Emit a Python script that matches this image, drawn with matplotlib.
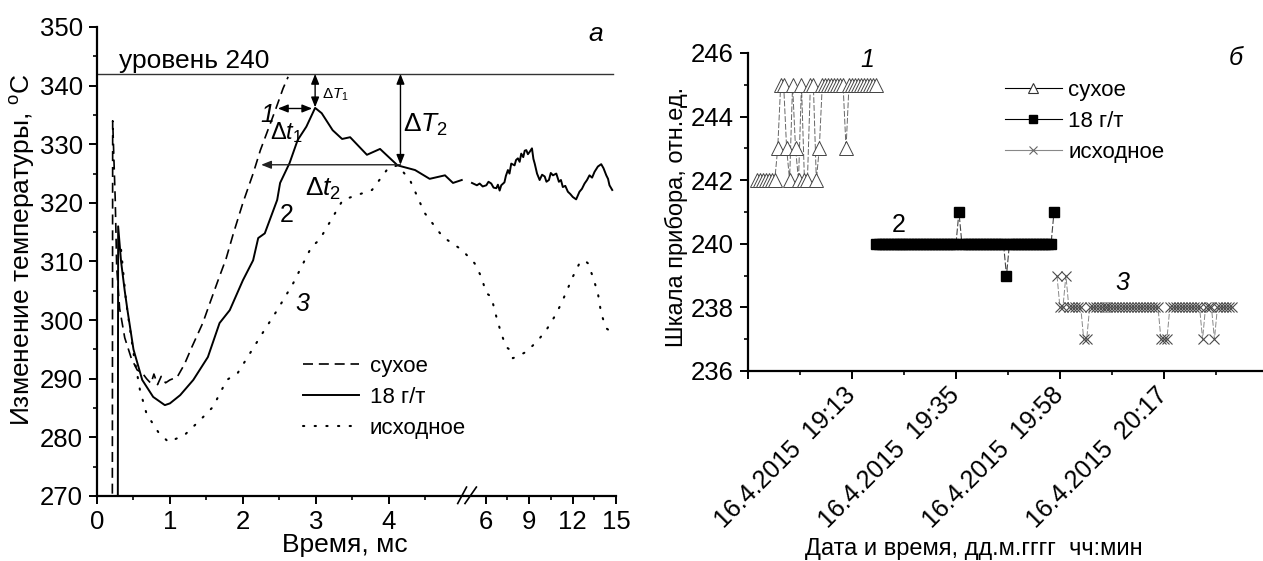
import numpy as np
import matplotlib
matplotlib.use("Agg")
import matplotlib.pyplot as plt
from matplotlib.lines import Line2D
from matplotlib.ticker import MultipleLocator, FixedLocator

plt.rcParams['font.family'] = ['Liberation Sans', 'DejaVu Sans']
plt.rcParams['mathtext.fontset'] = 'custom'
plt.rcParams['mathtext.rm'] = 'Liberation Sans'
plt.rcParams['mathtext.it'] = 'Liberation Sans:italic'
plt.rcParams['mathtext.bf'] = 'Liberation Sans:bold'

# ---------------- data: panel a ----------------
dry_t = [0.21, 0.215, 0.25, 0.27, 0.31, 0.38, 0.47, 0.55, 0.62, 0.68, 0.74, 0.78, 0.83,
         0.88, 0.94, 1.0, 1.1, 1.2, 1.3, 1.45, 1.55, 1.66, 1.77, 1.87, 2.0, 2.14, 2.24,
         2.33, 2.45, 2.55, 2.62]
dry_T = [265, 334.0, 320.5, 309, 302, 297, 293.5, 291.5, 291, 290, 289.2, 290.8, 289.0,
         290.4, 289.3, 289.8, 290.3, 292.5, 295.4, 299.5, 303, 306.8, 310.5, 314.8, 320,
         325, 329, 332, 336, 339.5, 341.5]

g18_t1 = [0.285, 0.29, 0.33, 0.38, 0.42, 0.5, 0.62, 0.77, 0.93, 1.0, 1.14, 1.32, 1.52,
          1.68, 1.82, 2.0, 2.14, 2.21, 2.3, 2.47, 2.51, 2.64, 2.75, 2.87, 2.99, 3.08,
          3.23, 3.36, 3.47, 3.7, 3.88, 4.12, 4.36, 4.56, 4.77, 4.88, 5.0]
g18_T1 = [265, 316, 310, 305, 301.5, 295, 289.8, 286.9, 285.5, 285.8, 287.2, 289.8, 293.7,
          299.5, 301.7, 306.8, 310.2, 314, 314.8, 320.5, 323.4, 326.8, 330.7, 333, 336.2,
          335.3, 332.4, 330.9, 331.2, 328.2, 329.2, 326.4, 325.6, 324.1, 324.7, 323.4, 323.9]

g18_t2 = [5.14, 5.4, 5.59, 5.8, 6.05, 6.2, 6.39, 6.55, 6.74, 6.85, 6.97, 7.08, 7.3, 7.4,
          7.54, 7.65, 7.77, 8.0, 8.1, 8.23, 8.35, 8.46, 8.6, 8.7, 8.81, 8.92, 9.04, 9.2,
          9.3, 9.39, 9.55, 9.73, 9.9, 10.08, 10.2, 10.37, 10.5, 10.65, 10.88, 11.06, 11.2,
          11.33, 11.5, 11.68, 11.85, 12.02, 12.25, 12.48, 12.65, 12.83, 13.0, 13.17, 13.35,
          13.52, 13.75, 13.98, 14.14, 14.33, 14.45, 14.55, 14.74]
g18_T2 = [323.4, 323.0, 323.3, 322.8, 323.0, 323.6, 323.3, 322.6, 322.5, 323.1, 322.1,
          323.0, 323.5, 324.6, 325.6, 325.0, 326.7, 326.4, 327.3, 327.6, 327.0, 328.4,
          327.8, 328.9, 329.0, 328.3, 328.7, 329.3, 327.5, 326.7, 325.0, 323.9, 324.8,
          324.5, 323.6, 323.9, 325.1, 324.7, 325.0, 323.6, 323.9, 322.7, 322.9, 321.9,
          321.5, 321.0, 320.6, 321.9, 322.4, 323.3, 323.9, 324.7, 324.3, 325.3, 326.2,
          326.6, 325.9, 324.7, 324.1, 323.0, 322.2]

src_t = [0.33, 0.4, 0.5, 0.59, 0.68, 0.84, 0.98, 1.2, 1.41, 1.59, 1.78, 1.93, 2.1, 2.27,
         2.47, 2.69, 2.94, 3.05, 3.37, 3.77, 3.99, 4.12, 4.29, 4.49, 4.74, 5.0, 5.24, 5.7,
         6.05, 6.39, 6.74, 7.08, 7.43, 7.7, 7.88, 8.34, 8.81, 9.27, 9.73, 10.19, 10.76,
         11.22, 11.57, 12.02, 12.48, 12.83, 13.06, 13.4, 13.75, 13.98, 14.33, 14.67, 14.9]
src_T = [312, 303, 294.4, 288, 284, 280.9, 279.2, 280.4, 282.9, 285.2, 289.8, 291, 294.4,
         297.8, 301.7, 306.3, 312.5, 313.7, 320.5, 322.2, 325.9, 326.4, 323.9, 318.3, 314.2,
         312.0, 309.7, 307.4, 304.6, 304.0, 300.6, 297.7, 295.4, 294.9, 293.5, 294.0, 294.6,
         295.7, 296.9, 298.3, 300.6, 302.8, 304.8, 307.4, 309.7, 310.2, 309.7, 307.4, 304.6,
         301.1, 298.6, 298.0, 298.3]

level_T = 342
level_span = [0, 14.8]
legend_a = ['сухое', '18 г/т', 'исходное']
xticks_a = [0, 1, 2, 3, 4, 6, 9, 12, 15]
xminor_a = [0.5, 1.5, 2.5, 3.5, 4.5, 7.5, 10.5, 13.5]

# ---------------- data: panel б ----------------
dry_row0 = 3
dry_scale = [242, 242, 242, 242, 242, 242, 242, 243, 245, 245, 243, 242, 245, 243, 242,
             245, 242, 242, 245, 245, 242, 243, 245, 245, 245, 245, 245, 245, 245, 245,
             243, 245, 245, 245, 245, 245, 245, 245, 245, 245, 245]
g18_row0 = 43
g18_scale = [
    240, 240, 240, 240, 240, 240, 240, 240, 240, 240, 240, 240, 240, 240, 240, 240,
    240, 240, 240, 240, 240, 240, 240, 240, 240, 240, 240, 240, 241, 240, 240, 240,
    240, 240, 240, 240, 240, 240, 240, 240, 240, 240, 240, 240, 239, 240, 240, 240,
    240, 240, 240, 240, 240, 240, 240, 240, 240, 240, 240, 240, 241]
src_row0 = 104
src_scale = [239, 238, 238, 239, 238, 238, 238, 238, 238, 237, 237, 238, 238, 238, 238,
             238, 238, 238, 238, 238, 238, 238, 238, 238, 238, 238, 238, 238, 238, 238,
             238, 238, 238, 238, 238, 237, 237, 237, 238, 238, 238, 238, 238, 238, 238,
             238, 238, 238, 238, 237, 238, 238, 238, 237, 238, 238, 238, 238, 238, 238]
date_rows = [0, 35, 70, 105, 140]
date_labels = ['', '16.4.2015  19:13', '16.4.2015  19:35', '16.4.2015  19:58',
               '16.4.2015  20:17']
legend_b = ['сухое', '18 г/т', 'исходное']

# ---------------- figure ----------------
W, H = 1263, 561
fig = plt.figure(figsize=(W / 100, H / 100), dpi=100)

# ----- panel a -----
axL = fig.add_axes([97 / W, 1 - 496 / H, (616 - 97) / W, (496 - 27) / H])
B = 5.16
R = 14.5 / 73


def fwd(x):
    x = np.asarray(x, dtype=float)
    return np.where(x <= B, x, B + (x - B) * R)


def inv(t):
    t = np.asarray(t, dtype=float)
    return np.where(t <= B, t, B + (t - B) / R)


axL.set_xscale('function', functions=(fwd, inv))
axL.set_xlim(0, 15)
axL.set_ylim(270, 350)

l_dry, = axL.plot(dry_t, dry_T, color='black', lw=1.2, ls=(0, (6, 3.5)), label=legend_a[0])
l_18, = axL.plot(g18_t1, g18_T1, color='black', lw=1.4, label=legend_a[1])
axL.plot(g18_t2, g18_T2, color='black', lw=1.4)
l_src, = axL.plot(src_t, src_T, color='black', lw=1.5, ls=(0, (0.6, 5)),
                  dash_capstyle='round', label=legend_a[2])
axL.plot(level_span, [level_T, level_T], color='#333333', lw=1.0)

axL.set_xticks(xticks_a, [str(v) for v in xticks_a])
axL.xaxis.set_minor_locator(FixedLocator(xminor_a))
axL.yaxis.set_major_locator(MultipleLocator(10))
axL.yaxis.set_minor_locator(MultipleLocator(5))

axL.text(0.3, 343.0, 'уровень 240', fontsize=19, ha='left', va='baseline')
axL.text(13.6, 348.8, 'а', fontsize=19, style='italic', ha='center', va='center')
axL.text(2.33, 335.0, '1', fontsize=18, style='italic', ha='center', va='center')
axL.text(2.6, 332.0, r'$\Delta \mathit{t}_1$', fontsize=17, ha='center', va='center')
axL.text(3.27, 338.4, r'$\Delta \mathit{T}_1$', fontsize=11, ha='center', va='center')
axL.text(4.5, 333.3, r'$\Delta \mathit{T}_2$', fontsize=19, ha='center', va='center')
axL.text(3.1, 322.3, r'$\Delta \mathit{t}_2$', fontsize=19, ha='center', va='center')
axL.text(2.6, 318.0, '2', fontsize=18, ha='center', va='center')
axL.text(2.81, 302.7, '3', fontsize=18, style='italic', ha='center', va='center')

ap2 = dict(arrowstyle='<|-|>,head_length=0.5,head_width=0.2', color='black', lw=1.0,
           shrinkA=0, shrinkB=0, mutation_scale=12)
ap1 = dict(arrowstyle='-|>,head_length=0.5,head_width=0.2', color='#222222', lw=1.0,
           shrinkA=0, shrinkB=0, mutation_scale=12)
axL.annotate('', xy=(2.48, 336.1), xytext=(2.95, 336.1), arrowprops=ap2)
axL.annotate('', xy=(2.99, 342), xytext=(2.99, 336.3), arrowprops=ap2)
axL.annotate('', xy=(4.16, 342), xytext=(4.16, 326.5), arrowprops=ap2)
axL.annotate('', xy=(2.25, 326.5), xytext=(4.16, 326.5), arrowprops=ap1)

# axis break marks
for xs in ([0.695, 0.712], [0.709, 0.731]):
    axL.plot(xs, [-0.016, 0.019], transform=axL.transAxes, clip_on=False,
             color='black', lw=1.2)

axL.legend(handles=[l_dry, l_18, l_src], labels=legend_a, loc='upper left',
           bbox_to_anchor=(303 / W, 1 - 356 / H), bbox_transform=fig.transFigure,
           frameon=False, fontsize=16, handlelength=2.5, handletextpad=0.5,
           labelspacing=0.45, borderpad=0, borderaxespad=0)

axL.set_xlabel('Время, мс', fontsize=19, va='center')
axL.xaxis.set_label_coords((345 - 97) / 519, (496 - 545) / 469)
axL.set_ylabel('Изменение температуры, $^{\\mathrm{o}}$C', fontsize=19, va='center')
axL.yaxis.set_label_coords((23 - 97) / 519, (496 - 250) / 469)

# ----- panel б -----
axR = fig.add_axes([748 / W, 1 - 371 / H, (W - 748) / W, (371 - 53) / H])
axR.set_xlim(0, 515 / 2.971)
axR.set_ylim(236, 246)

rows_dry = dry_row0 + np.arange(len(dry_scale))
rows_18 = g18_row0 + np.arange(len(g18_scale))
rows_src = src_row0 + np.arange(len(src_scale))

axR.plot(rows_dry, dry_scale, color='#666666', lw=0.7, ls=(0, (6, 2)), zorder=2)
axR.plot(rows_dry, dry_scale, ls='none', marker='^', ms=9.5, mfc='white',
         mec='#444444', mew=0.7, zorder=3)
axR.plot(rows_18, g18_scale, color='#444444', lw=0.8, ls=(0, (6, 2)), zorder=2)
axR.plot(rows_18, g18_scale, ls='none', marker='s', ms=7, mfc='black', mec='black',
         zorder=3)
axR.plot(rows_src, src_scale, color='#888888', lw=0.7, ls=(0, (6, 2)), zorder=2)
axR.plot(rows_src, src_scale, ls='none', marker='x', ms=6.5, mec='#4a4a4a', mew=0.8,
         zorder=3)

axR.set_xticks(date_rows, date_labels, rotation=45, ha='right', va='center',
               rotation_mode='anchor', fontsize=18)
axR.xaxis.set_minor_locator(MultipleLocator(17.5))
axR.yaxis.set_major_locator(MultipleLocator(2))
axR.yaxis.set_minor_locator(MultipleLocator(1))

axR.text(40, 245.78, '1', fontsize=18, style='italic', ha='center', va='center')
axR.text(50.8, 240.6, '2', fontsize=18, ha='center', va='center')
axR.text(126, 238.77, '3', fontsize=18, style='italic', ha='center', va='center')
axR.text(164.2, 245.85, 'б', fontsize=18, style='italic', ha='center', va='center')

hb = [Line2D([], [], color='black', lw=0.8, marker='^', ms=7, mfc='white', mec='#333333',
             mew=0.8),
      Line2D([], [], color='black', lw=0.8, marker='s', ms=5.5, mfc='black', mec='black'),
      Line2D([], [], color='#888888', lw=0.8, marker='x', ms=6, mec='#666666', mew=0.8)]
axR.legend(handles=hb, labels=legend_b, loc='upper left',
           bbox_to_anchor=(1005 / W, 1 - 80 / H), bbox_transform=fig.transFigure,
           frameon=False, fontsize=16, handlelength=2.55, handletextpad=0.3,
           labelspacing=0.45, borderpad=0, borderaxespad=0, numpoints=1)

axR.set_xlabel('Дата и время, дд.м.гггг  чч:мин', fontsize=17, va='center')
axR.xaxis.set_label_coords((974 - 748) / 515, (371 - 549) / 318)
axR.set_ylabel('Шкала прибора, отн.ед.', fontsize=17, va='center')
axR.yaxis.set_label_coords((676 - 748) / 515, (371 - 217) / 318)

for ax in (axL, axR):
    for s in ('top', 'right'):
        ax.spines[s].set_visible(False)
    for s in ('left', 'bottom'):
        ax.spines[s].set_linewidth(1.6)
    ax.tick_params(which='major', direction='out', length=6, width=1.4, pad=4,
                   labelsize=18.5)
    ax.tick_params(which='minor', direction='out', length=3, width=1.2)
axR.tick_params(axis='x', which='major', labelsize=18, pad=9)

fig.savefig('out.png', dpi=100, facecolor='white')
